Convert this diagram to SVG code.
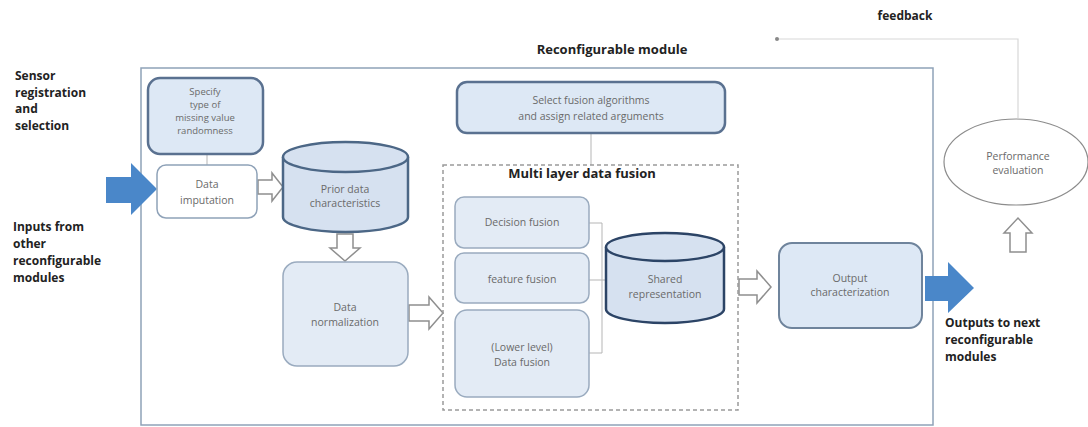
<svg xmlns="http://www.w3.org/2000/svg" width="1088" height="427" viewBox="0 0 1088 427">
  <style>
    .lbl { font-family: "Open Sans", "Liberation Sans", Arial, sans-serif; font-size: 12px; font-weight: bold; fill: #222; }
    .ttl { font-family: "Open Sans", "Liberation Sans", Arial, sans-serif; font-size: 13px; font-weight: bold; fill: #222; text-anchor: middle; }
    .txt { font-family: "Open Sans", "Liberation Sans", Arial, sans-serif; font-size: 10.5px; fill: #6a6a6a; text-anchor: middle; }
    .sm { font-size: 9.5px; }
    .box { fill: #dde8f5; stroke: #6f849c; stroke-width: 2; }
    .boxthick { fill: #dde8f5; stroke: #5a7190; stroke-width: 2.5; }
    .boxlight { fill: #e3ebf5; stroke: #9aabbf; stroke-width: 1.5; }
    .cyl { fill: #d6e1f0; stroke: #4c6786; stroke-width: 2.5; }
    .cyldark { fill: #d6e1f0; stroke: #2c4466; stroke-width: 2.5; }
    .hollow { fill: #fff; stroke: #8f8f8f; stroke-width: 1.5; stroke-linejoin: miter; }
    .blue { fill: #4a87c9; }
    .thin { fill: none; stroke: #b5b5b5; stroke-width: 1; }
  </style>

  <!-- outer module frame -->
  <g id="module">
    <rect x="141" y="68" width="792" height="357" fill="#fff" stroke="#8fa2b8" stroke-width="1.5"/>
    <text class="ttl" x="612" y="54">Reconfigurable module</text>
  </g>

  <!-- side labels -->
  <g id="label-sensor">
    <text class="lbl" x="15" y="80">Sensor</text>
    <text class="lbl" x="15" y="97">registration</text>
    <text class="lbl" x="15" y="113">and</text>
    <text class="lbl" x="15" y="130">selection</text>
  </g>
  <g id="label-inputs">
    <text class="lbl" x="13" y="231">Inputs from</text>
    <text class="lbl" x="13" y="248">other</text>
    <text class="lbl" x="13" y="265">reconfigurable</text>
    <text class="lbl" x="13" y="282">modules</text>
  </g>
  <g id="label-outputs">
    <text class="lbl" x="945" y="327">Outputs to next</text>
    <text class="lbl" x="945" y="344">reconfigurable</text>
    <text class="lbl" x="945" y="361">modules</text>
  </g>
  <g id="label-feedback">
    <text class="lbl" x="905" y="20" text-anchor="middle" font-size="11">feedback</text>
  </g>

  <!-- connectors -->
  <g id="connectors">
    <!-- thin links -->
    <line class="thin" x1="207" y1="154" x2="207" y2="166"/>
    <line class="thin" x1="591" y1="133" x2="591" y2="165"/>
    <path class="thin" d="M589,223 H602 M589,280 H607 M589,353 H602 M602,223 V353"/>
    <!-- feedback loop -->
    <path d="M777,39 H1018 V118" fill="none" stroke="#d8d8d8" stroke-width="1.2"/>
    <circle cx="777" cy="39" r="2" fill="#888"/>
    <!-- blue in/out arrows -->
    <path class="blue" d="M106,177 H131 V163 L157,189 L131,215 V203 H106 Z"/>
    <path class="blue" d="M925,276 H948 V262 L974,288 L948,313 V301 H925 Z"/>
    <!-- hollow flow arrows -->
    <path class="hollow" d="M258,180 H272 V173 L283,187 L272,201 V194 H258 Z"/>
    <path class="hollow" d="M337,234 V248 H330 L345,261 L360,248 H353 V234 Z"/>
    <path class="hollow" d="M409,305 H429 V297 L443,313 L429,329 V321 H409 Z"/>
    <path class="hollow" d="M739,279 H757 V271 L771,287 L757,303 V295 H739 Z"/>
    <path class="hollow" d="M1010,252 V233 H1004 L1018,218 L1032,233 H1026 V252 Z"/>
  </g>

  <!-- dashed fusion region -->
  <g id="multi-layer-fusion">
    <rect x="443" y="165" width="295" height="245" fill="none" stroke="#9a9a9a" stroke-width="1.5" stroke-dasharray="4,3"/>
    <text class="ttl" x="582" y="178">Multi layer data fusion</text>
  </g>

  <g id="specify-missing">
    <rect class="boxthick" x="148" y="78" width="115" height="76" rx="12"/>
    <text class="txt sm" x="205" y="95">Specify</text>
    <text class="txt sm" x="205" y="108">type of</text>
    <text class="txt sm" x="205" y="121">missing value</text>
    <text class="txt sm" x="205" y="134">randomness</text>
  </g>

  <g id="data-imputation">
    <rect x="157" y="165" width="100" height="53" rx="9" fill="#fff" stroke="#8fa2b8" stroke-width="1.5"/>
    <text class="txt" x="207" y="188">Data</text>
    <text class="txt" x="207" y="204">imputation</text>
  </g>

  <g id="prior-data">
    <path class="cyl" d="M283,157 V217 A62.5,15 0 0 0 408,217 V157"/>
    <ellipse class="cyl" cx="345.5" cy="157" rx="62.5" ry="15"/>
    <text class="txt" x="345" y="193">Prior data</text>
    <text class="txt" x="345" y="207">characteristics</text>
  </g>

  <g id="data-normalization">
    <rect class="boxlight" x="283" y="262" width="125" height="104" rx="14"/>
    <text class="txt" x="345" y="311">Data</text>
    <text class="txt" x="345" y="326">normalization</text>
  </g>

  <g id="select-fusion">
    <rect class="boxthick" x="457" y="82" width="268" height="51" rx="10"/>
    <text class="txt" x="591" y="104">Select fusion algorithms</text>
    <text class="txt" x="591" y="120">and assign related arguments</text>
  </g>

  <g id="decision-fusion">
    <rect class="boxlight" x="455" y="197" width="134" height="51" rx="9"/>
    <text class="txt" x="522" y="226">Decision fusion</text>
  </g>

  <g id="feature-fusion">
    <rect class="boxlight" x="455" y="253" width="134" height="50" rx="9"/>
    <text class="txt" x="522" y="283">feature fusion</text>
  </g>

  <g id="data-fusion">
    <rect class="boxlight" x="455" y="310" width="134" height="87" rx="12"/>
    <text class="txt" x="522" y="351">(Lower level)</text>
    <text class="txt" x="522" y="366">Data fusion</text>
  </g>

  <g id="shared-representation">
    <path class="cyldark" d="M606,247 V309 A59,14 0 0 0 724,309 V247"/>
    <ellipse class="cyldark" cx="665" cy="247" rx="59" ry="14"/>
    <text class="txt" x="665" y="283">Shared</text>
    <text class="txt" x="665" y="298">representation</text>
  </g>

  <g id="output-characterization">
    <rect class="box" x="779" y="243" width="143" height="85" rx="13"/>
    <text class="txt" x="850" y="282">Output</text>
    <text class="txt" x="850" y="296">characterization</text>
  </g>

  <g id="performance-evaluation">
    <ellipse cx="1016" cy="162" rx="72" ry="43" fill="#fff" stroke="#8c8c8c" stroke-width="1.2"/>
    <text class="txt" x="1018" y="160">Performance</text>
    <text class="txt" x="1018" y="174">evaluation</text>
  </g>
</svg>
